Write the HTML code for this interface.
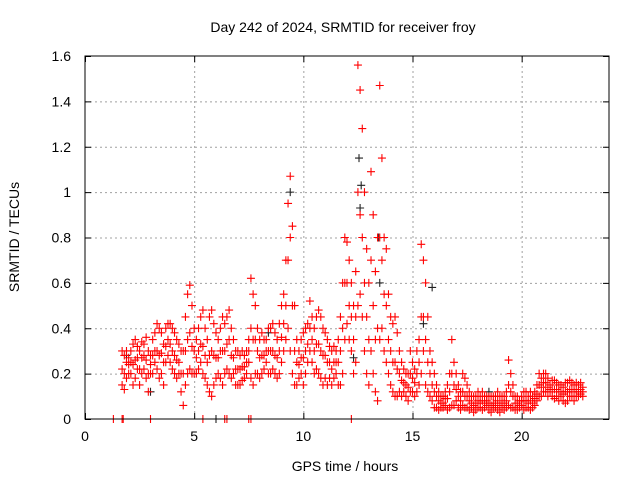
<!DOCTYPE html>
<html><head><meta charset="utf-8"><style>
body{margin:0;background:#fff}
svg text{font-family:"Liberation Sans",sans-serif;font-size:14px;fill:#000}
</style></head><body>
<svg id="chart" width="640" height="480" viewBox="0 0 640 480" xmlns="http://www.w3.org/2000/svg">
<rect width="640" height="480" fill="#fff"/>
<text x="343" y="32" text-anchor="middle">Day 242 of 2024, SRMTID for receiver froy</text>
<text x="345" y="471" text-anchor="middle">GPS time / hours</text>
<text transform="translate(19,237) rotate(-90)" text-anchor="middle">SRMTID / TECUs</text>
<g id="grid"></g>
<g id="ticks"></g>
<g id="black"></g>
<g id="red"></g>
<rect x="85" y="56" width="524" height="363" fill="none" stroke="#000" stroke-width="1"/>
</svg>
<script>
const xTicks=[0,5,10,15,20];
const yTicks=[0,0.2,0.4,0.6,0.8,1,1.2,1.4,1.6];
const yTickLabels=["0","0.2","0.4","0.6","0.8","1","1.2","1.4","1.6"];
const tStart=1.7, tStep=0.1;
const redHi=[0.3,0.28,0.3,0.27,
0.3,0.33,0.35,0.32,0.3,0.34,0.33,0.36,0.3,0.28,
0.35,0.38,0.42,0.4,0.38,0.33,0.4,0.42,0.42,0.4,
0.38,0.35,0.33,0.3,0.3,0.45,0.55,0.59,0.5,0.4,
0.35,0.4,0.45,0.48,0.4,0.35,0.45,0.48,0.42,0.38,
0.35,0.4,0.45,0.42,0.45,0.48,0.4,0.35,0.3,0.3,
0.28,0.3,0.28,0.3,0.35,0.62,0.55,0.5,0.4,0.35,
0.38,0.35,0.35,0.4,0.4,0.42,0.38,0.35,0.42,0.5,0.55,0.7,
0.95,1.07,0.85,0.5,0.35,0.3,0.35,0.38,0.4,0.42,
0.52,0.45,0.4,0.45,0.48,0.45,0.4,0.38,0.35,0.32,
0.3,0.32,0.3,0.35,0.45,0.6,0.8,0.78,0.7,0.6,
0.5,0.65,1.56,1.45,1.28,1.0,0.75,0.6,1.09,0.9,
0.65,0.8,1.47,1.15,0.8,0.75,0.55,0.45,0.42,0.45,
0.38,0.3,0.25,0.22,0.2,0.2,0.3,0.25,0.22,0.3,
0.35,0.77,0.7,0.6,0.45,0.3,0.25,0.2,0.15,0.12,
0.1,0.1,0.12,0.15,0.2,0.35,0.25,0.2,
0.15,0.12,0.2,0.18,0.15,0.12,0.1,0.1,0.1,0.12,
0.1,0.12,0.1,0.1,0.1,0.1,0.1,0.1,0.12,0.1,
0.1,0.1,0.12,0.26,0.2,0.15,0.1,0.1,0.08,0.1,
0.12,0.12,0.1,0.12,0.1,0.12,0.15,0.2,0.18,0.2,
0.2,0.18,0.15,0.17,0.17,0.16,0.15,0.15,0.14,0.16,
0.16,0.17,0.16,0.15,0.16,0.15,0.16,0.14];
const redMid=[0.22,0.2,0.25,0.24,
0.25,0.24,0.26,0.27,0.22,0.27,0.28,0.26,0.2,0.24,
0.28,0.3,0.3,0.28,0.29,0.25,0.32,0.35,0.33,0.3,
0.28,0.26,0.25,0.2,0.2,0.3,0.35,0.38,0.32,0.3,
0.27,0.3,0.33,0.32,0.28,0.25,0.28,0.3,0.28,0.27,
0.27,0.3,0.3,0.3,0.33,0.35,0.28,0.27,0.22,0.22,
0.22,0.23,0.23,0.25,0.3,0.4,0.35,0.35,0.3,0.27,
0.28,0.28,0.3,0.3,0.3,0.3,0.28,0.27,0.3,0.36,0.42,0.5,
0.7,0.8,0.5,0.3,0.25,0.24,0.27,0.27,0.3,0.33,
0.4,0.35,0.3,0.33,0.33,0.3,0.28,0.28,0.25,0.25,
0.22,0.25,0.25,0.25,0.3,0.4,0.6,0.6,0.5,0.45,
0.35,0.45,1.0,0.9,0.8,0.6,0.45,0.35,0.7,0.5,
0.35,0.4,0.8,0.7,0.55,0.5,0.35,0.3,0.25,0.25,
0.22,0.2,0.17,0.16,0.15,0.14,0.2,0.18,0.16,0.2,
0.25,0.45,0.45,0.35,0.25,0.2,0.15,0.12,0.1,0.08,
0.07,0.07,0.09,0.09,0.12,0.2,0.15,0.13,
0.1,0.08,0.12,0.1,0.1,0.08,0.07,0.06,0.07,0.08,
0.07,0.08,0.07,0.08,0.07,0.06,0.07,0.07,0.08,0.06,
0.07,0.07,0.08,0.15,0.12,0.1,0.07,0.07,0.06,0.08,
0.08,0.08,0.07,0.08,0.07,0.09,0.11,0.15,0.14,0.16,
0.16,0.14,0.13,0.13,0.13,0.13,0.12,0.12,0.11,0.12,
0.12,0.13,0.13,0.12,0.13,0.12,0.13,0.12];
const redLo=[0.15,0.13,0.18,0.2,
0.2,0.15,0.18,0.22,0.15,0.2,0.22,0.18,0.12,0.2,
0.2,0.25,0.22,0.18,0.2,0.15,0.25,0.28,0.25,0.22,
0.2,0.18,0.2,0.12,0.06,0.15,0.2,0.22,0.2,0.2,
0.2,0.22,0.25,0.2,0.18,0.15,0.12,0.1,0.15,0.18,
0.2,0.18,0.15,0.2,0.22,0.2,0.18,0.2,0.15,0.15,
0.15,0.17,0.18,0.2,0.25,0.18,0.15,0.2,0.2,0.18,
0.2,0.22,0.25,0.2,0.2,0.22,0.2,0.18,0.2,0.25,0.3,0.35,
0.4,0.3,0.2,0.15,0.15,0.18,0.2,0.15,0.2,0.25,
0.3,0.25,0.2,0.22,0.2,0.18,0.15,0.18,0.15,0.18,
0.15,0.18,0.2,0.15,0.15,0.2,0.35,0.42,0.35,0.3,
0.2,0.25,0.5,0.55,0.45,0.3,0.2,0.15,0.3,0.2,
0.12,0.08,0.35,0.4,0.3,0.25,0.2,0.15,0.12,0.1,
0.1,0.12,0.1,0.12,0.1,0.08,0.12,0.12,0.1,0.12,
0.15,0.2,0.3,0.15,0.12,0.1,0.08,0.05,0.05,0.04,
0.05,0.05,0.06,0.04,0.05,0.06,0.06,0.08,
0.05,0.04,0.06,0.05,0.05,0.04,0.05,0.03,0.04,0.05,
0.05,0.04,0.05,0.06,0.04,0.03,0.05,0.05,0.04,0.03,
0.05,0.04,0.05,0.06,0.05,0.05,0.04,0.04,0.05,0.06,
0.04,0.05,0.05,0.04,0.05,0.06,0.08,0.1,0.1,0.12,
0.12,0.1,0.12,0.1,0.09,0.1,0.08,0.1,0.08,0.07,
0.08,0.1,0.1,0.08,0.1,0.1,0.11,0.1];
const zeroTimes=[1.3,1.7,1.75,3.0,5.4,6.4,6.5,7.5,7.6,12.2];
const blackTimes=[1.9,3.0,6.0,8.4,9.4,12.3,12.55,12.6,12.65,13.45,13.5,15.5,15.9,18.5];
const blackVals=[0.28,0.12,0.0,0.38,1.0,0.27,1.15,0.93,1.03,0.8,0.6,0.42,0.58,0.12];

const X=t=>85+t*(524/24);
const Y=v=>419-v*(363/1.6);
const NS="http://www.w3.org/2000/svg";
function plus(g,x,y,c){
  const p=document.createElementNS(NS,"path");
  p.setAttribute("d",`M${x-4},${y}h8M${x},${y-4}v8`);
  p.setAttribute("stroke",c);p.setAttribute("stroke-width","1.1");p.setAttribute("fill","none");
  
  
  g.appendChild(p);
}
const grid=document.getElementById("grid"),ticks=document.getElementById("ticks");
function line(g,x1,y1,x2,y2,st,dash){
  const l=document.createElementNS(NS,"line");
  l.setAttribute("x1",x1);l.setAttribute("y1",y1);l.setAttribute("x2",x2);l.setAttribute("y2",y2);
  l.setAttribute("stroke",st);l.setAttribute("stroke-width","1");
  if(dash)l.setAttribute("stroke-dasharray",dash);
  g.appendChild(l);return l;
}
function txt(g,x,y,s,anchor){
  const t=document.createElementNS(NS,"text");
  t.setAttribute("x",x);t.setAttribute("y",y);t.setAttribute("text-anchor",anchor);t.textContent=s;
  
  
  g.appendChild(t);
}
xTicks.forEach(v=>{const x=X(v)+0.5;
  if(v>0){const l=line(grid,x,56,x,419,"#a0a0a0","2,3");
  
  }
  line(ticks,x,419,x,413,"#000");line(ticks,x,56,x,62,"#000");
  txt(ticks,X(v),441,String(v),"middle");});
yTicks.forEach((v,i)=>{const y=Y(v)+0.5;
  if(v>0&&v<1.6){const l=line(grid,85,y,609,y,"#a0a0a0","2,3");
  
  }
  line(ticks,85,y,91,y,"#000");line(ticks,609,y,603,y,"#000");
  txt(ticks,71,Y(v)+5,yTickLabels[i],"end");});
const bg=document.getElementById("black"),rg=document.getElementById("red");
blackTimes.forEach((t,i)=>plus(bg,X(t),Y(blackVals[i]),"#222"));
[redHi,redMid,redLo].forEach(arr=>arr.forEach((v,i)=>plus(rg,X(tStart+i*tStep),Y(v),"#ff0000")));
zeroTimes.forEach(t=>plus(rg,X(t),Y(0),"#ff0000"));
</script>
</body></html>
